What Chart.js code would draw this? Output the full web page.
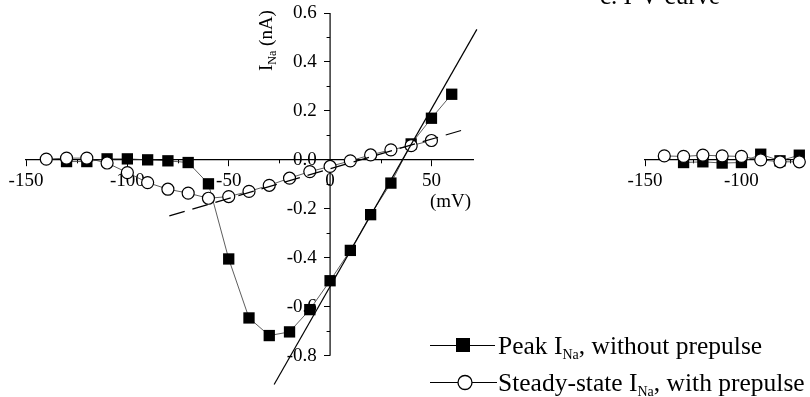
<!DOCTYPE html>
<html>
<head>
<meta charset="utf-8">
<script src="https://cdn.jsdelivr.net/npm/chart.js@4.4.1/dist/chart.umd.min.js"></script>
<style>
html, body { margin: 0; padding: 0; background: #fff; overflow: hidden; }
#wrap { position: relative; width: 810px; height: 397px; overflow: hidden; }
#chart { position: absolute; left: 0; top: 0; }
#chart2 { position: absolute; left: 600px; top: 0; }
</style>
</head>
<body>
<div id="wrap">
<canvas id="chart" width="810" height="397" style="width:810px;height:397px"></canvas>
<canvas id="chart2" width="210" height="397" style="width:210px;height:397px"></canvas>
</div>
<script>
// main panel: I-V data (mV, nA)
var peakV = [-130, -120, -110, -100, -90, -80, -70, -60, -50, -40, -30, -20, -10, 0, 10, 20, 30, 40, 50, 60];
var peakI = [-0.007, -0.007, 0.004, 0.004, 0.000, -0.004, -0.011, -0.098, -0.405, -0.646, -0.718, -0.703, -0.612, -0.494, -0.370, -0.224, -0.095, 0.065, 0.170, 0.268];
var steadyV = [-140, -130, -120, -110, -100, -90, -80, -70, -60, -50, -40, -30, -20, -10, 0, 10, 20, 30, 40, 50];
var steadyI = [0.003, 0.007, 0.007, -0.013, -0.052, -0.093, -0.120, -0.136, -0.157, -0.150, -0.129, -0.104, -0.075, -0.048, -0.027, -0.004, 0.020, 0.041, 0.058, 0.079];

// fitted lines (end points)
var peakFitV = [-27.6, 72.4];
var peakFitI = [-0.918, 0.533];
var steadyFitV = [-79.3, 68.3];
var steadyFitI = [-0.229, 0.129];

var xMajorTicks = [-150, -100, -50, 0, 50];
var xMinorTicks = [-125, -75, -25, 25];
var yMajorTicks = [-0.8, -0.6, -0.4, -0.2, 0, 0.2, 0.4, 0.6];
var yMinorTicks = [-0.7, -0.5, -0.3, -0.1, 0.1, 0.3, 0.5];

// right panel (cut off)
var rightCircleV = [-140, -130, -120, -110, -100, -90, -80, -70];
var rightCircleI = [0.016, 0.014, 0.019, 0.016, 0.014, 0.000, -0.008, -0.008];
var rightSquareV = [-130, -120, -110, -100, -90, -80, -70];
var rightSquareI = [-0.011, -0.008, -0.013, -0.011, 0.023, -0.004, 0.019];
var rightMajorTicks = [-150, -100];
var rightMinorTicks = [-125, -75];

var serif = "'Liberation Serif', 'Times New Roman', serif";
Chart.defaults.font.family = serif;
Chart.defaults.color = '#000';

function pts(xs, ys) {
	var out = [];
	for (var i in xs) {
		out.push({x: xs[i], y: ys[i]});
	}
	return out;
}

function zeroPad(s) {
	s.paddingTop = 0; s.paddingBottom = 0; s.paddingLeft = 0; s.paddingRight = 0;
}

function drawSub(ctx, x, y, parts) {
	parts.forEach(function(p) {
		ctx.font = p[1] + 'px ' + serif;
		ctx.fillText(p[0], x, y + p[2]);
		x += ctx.measureText(p[0]).width;
	});
}

function minorTicks(chart, xs, ys) {
	var ctx = chart.ctx, sx = chart.scales.x, sy = chart.scales.y;
	var x0 = sx.getPixelForValue(0), y0 = sy.getPixelForValue(0);
	ctx.save();
	ctx.strokeStyle = '#000';
	ctx.lineWidth = 1;
	ctx.beginPath();
	xs.forEach(function(v) {
		var px = Math.round(sx.getPixelForValue(v)) + 0.5;
		ctx.moveTo(px, y0); ctx.lineTo(px, y0 + 3.5);
	});
	ys.forEach(function(v) {
		var py = Math.round(sy.getPixelForValue(v)) + 0.5;
		ctx.moveTo(x0, py); ctx.lineTo(x0 - 3.5, py);
	});
	ctx.stroke();
	ctx.restore();
}

var decor = {
	id: 'decor',
	beforeDatasetsDraw: function(chart) {
		var ctx = chart.ctx, sx = chart.scales.x, sy = chart.scales.y;
		var x0 = sx.getPixelForValue(0);
		ctx.save();
		ctx.strokeStyle = '#000';
		ctx.lineWidth = 1.2;
		ctx.beginPath();
		ctx.moveTo(x0, sy.getPixelForValue(yMajorTicks[0]));
		ctx.lineTo(x0, sy.getPixelForValue(yMajorTicks[yMajorTicks.length - 1]));
		ctx.stroke();
		ctx.restore();
		minorTicks(chart, xMinorTicks, yMinorTicks);
	},
	afterDraw: function(chart) {
		var ctx = chart.ctx;
		ctx.save();
		ctx.fillStyle = '#000';
		ctx.strokeStyle = '#000';
		ctx.textAlign = 'left';
		ctx.textBaseline = 'alphabetic';

		// x unit
		ctx.font = '19px ' + serif;
		ctx.fillText('(mV)', 430, 207);

		// y title
		ctx.save();
		ctx.translate(272, 71);
		ctx.rotate(-Math.PI / 2);
		drawSub(ctx, 0, 0, [['I', 19, 0], ['Na', 12, 4], [' (nA)', 19, 0]]);
		ctx.restore();

		// title of the next panel, cut at the top
		ctx.font = '25px ' + serif;
		ctx.fillText('c. I-V curve', 600, 4);

		// legend
		ctx.lineWidth = 1;
		ctx.beginPath();
		ctx.moveTo(430, 345.5); ctx.lineTo(495, 345.5);
		ctx.moveTo(430, 382.5); ctx.lineTo(497, 382.5);
		ctx.stroke();
		ctx.fillRect(456, 338, 14, 14);
		ctx.beginPath();
		ctx.arc(465, 382.5, 7, 0, Math.PI * 2);
		ctx.fillStyle = '#fff';
		ctx.fill();
		ctx.lineWidth = 1.3;
		ctx.stroke();
		ctx.fillStyle = '#000';
		drawSub(ctx, 498, 354, [['Peak I', 25.5, 0], ['Na', 14, 5], [', without prepulse', 25.5, 0]]);
		drawSub(ctx, 498, 391, [['Steady-state I', 25.5, 0], ['Na', 14, 5], [', with prepulse', 25.5, 0]]);
		ctx.restore();
	}
};

new Chart(document.getElementById('chart'), {
	type: 'line',
	data: {
		datasets: [
			{data: pts(peakFitV, peakFitI), borderColor: '#000', borderWidth: 1.2, pointRadius: 0, clip: false},
			{data: pts(steadyFitV, steadyFitI), borderColor: '#000', borderWidth: 1.2, borderDash: [16, 8], pointRadius: 0, clip: false},
			{data: pts(steadyV, steadyI), borderColor: '#333', borderWidth: 0.8, pointStyle: 'circle', pointRadius: 6,
				pointBackgroundColor: '#fff', pointBorderColor: '#000', pointBorderWidth: 1.2},
			{data: pts(peakV, peakI), borderColor: '#333', borderWidth: 0.8, pointStyle: 'rect', pointRadius: 8,
				pointBackgroundColor: '#000', pointBorderColor: '#000', pointBorderWidth: 0}
		]
	},
	options: {
		responsive: false,
		animation: false,
		events: [],
		layout: {padding: {left: 26, right: 337, top: 13, bottom: 12}},
		plugins: {legend: {display: false}, tooltip: {enabled: false}},
		elements: {line: {tension: 0}},
		scales: {
			x: {
				type: 'linear', min: -150, max: 70.5, position: {y: 0},
				afterBuildTicks: function(s) { s.ticks = xMajorTicks.map(function(v) { return {value: v}; }); },
				afterFit: zeroPad,
				grid: {drawOnChartArea: false, drawTicks: true, tickLength: 6, color: '#000', lineWidth: 1},
				border: {display: true, color: '#000', width: 1.2},
				ticks: {font: {size: 19}, color: '#000', padding: 4, maxRotation: 0, autoSkip: false,
					callback: function(v) { return String(v); }}
			},
			y: {
				type: 'linear', min: -0.92, max: 0.6, position: {x: 0},
				afterBuildTicks: function(s) { s.ticks = yMajorTicks.map(function(v) { return {value: v}; }); },
				afterFit: zeroPad,
				grid: {drawOnChartArea: false, drawTicks: true, tickLength: 6, color: '#000', lineWidth: 1},
				border: {display: false},
				ticks: {font: {size: 19}, color: '#000', autoSkip: false,
					callback: function(v) { return v.toFixed(1) + '\u2002\u2009'; }}
			}
		}
	},
	plugins: [decor]
});

new Chart(document.getElementById('chart2'), {
	type: 'line',
	data: {
		datasets: [
			{data: pts(rightCircleV, rightCircleI), borderColor: '#333', borderWidth: 0.8, pointStyle: 'circle', pointRadius: 6,
				pointBackgroundColor: '#fff', pointBorderColor: '#000', pointBorderWidth: 1.2, clip: false},
			{data: pts(rightSquareV, rightSquareI), borderColor: '#333', borderWidth: 0.8, pointStyle: 'rect', pointRadius: 8,
				pointBackgroundColor: '#000', pointBorderColor: '#000', pointBorderWidth: 0, clip: false}
		]
	},
	options: {
		responsive: false,
		animation: false,
		events: [],
		layout: {padding: {left: 45, right: 0, top: 13, bottom: 12}},
		plugins: {legend: {display: false}, tooltip: {enabled: false}},
		elements: {line: {tension: 0}},
		scales: {
			x: {
				type: 'linear', min: -150, max: -68.6, position: {y: 0},
				afterBuildTicks: function(s) { s.ticks = rightMajorTicks.map(function(v) { return {value: v}; }); },
				afterFit: zeroPad,
				grid: {drawOnChartArea: false, drawTicks: true, tickLength: 6, color: '#000', lineWidth: 1},
				border: {display: true, color: '#000', width: 1.2},
				ticks: {font: {size: 19}, color: '#000', padding: 4, maxRotation: 0, autoSkip: false,
					callback: function(v) { return String(v); }}
			},
			y: {type: 'linear', min: -0.92, max: 0.6, display: false}
		}
	},
	plugins: [{
		id: 'rightTicks',
		beforeDatasetsDraw: function(chart) { minorTicks(chart, rightMinorTicks, []); }
	}]
});
</script>
</body>
</html>
